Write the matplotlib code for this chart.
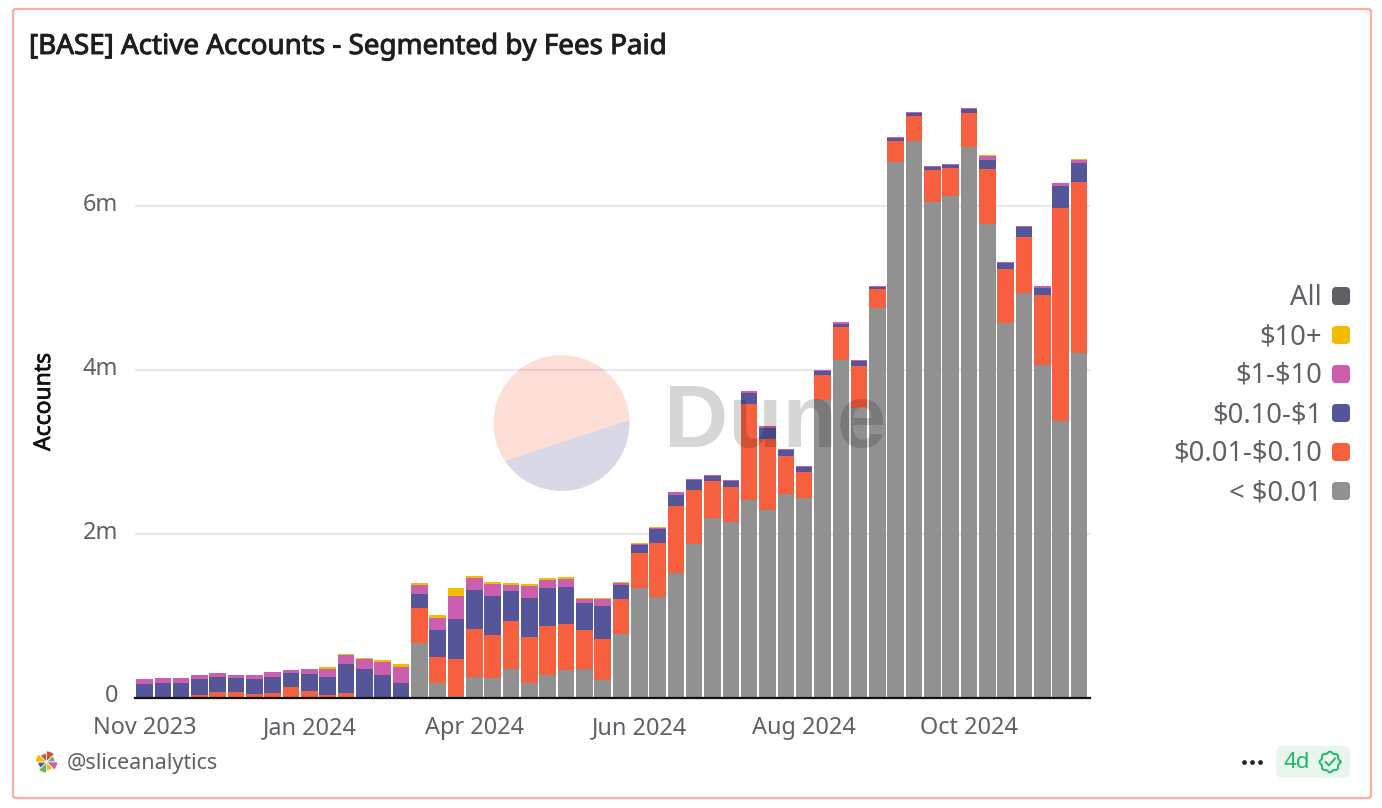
import numpy as np
import matplotlib
matplotlib.use("Agg")
import matplotlib.pyplot as plt
import matplotlib.patheffects as pe
from matplotlib.patches import FancyBboxPatch, Wedge
from matplotlib.transforms import ScaledTranslation

plt.rcParams['font.family'] = ['Noto Sans', 'DejaVu Sans']

# values in millions of accounts, one per week
under_001 = [0, 0, 0, 0, 0, 0, 0, 0, 0, 0, 0, 0, 0, 0, 0,
             .663, .179, .016, .256, .236, .346, .179, .273, .334, .342, .212, .773, 1.335, 1.225, 1.518,
             1.87, 2.187, 2.138, 2.408, 2.285, 2.481, 2.432, 3.632, 4.12, 3.54, 4.752, 6.534, 6.80, 6.046,
             6.12, 6.717, 5.78, 4.569, 4.94, 4.056, 3.372, 4.202]
c001_010 = [.012, .005, .005, .028, .073, .073, .045, .057, .13, .081, .028, .057, .004, .001, .001,
            .424, .321, .452, .578, .533, .594, .558, .606, .561, .48, .504, .432, .427, .665, .816,
            .66, .453, .436, 1.172, .871, .469, .325, .306, .405, .51, .238, .266, .304, .394,
            .34, .416, .673, .661, .68, .854, 2.605, 2.088]
c010_1 = [.158, .178, .178, .192, .183, .159, .175, .199, .175, .2, .22, .358, .35, .272, .182,
          .171, .322, .488, .481, .472, .358, .484, .46, .456, .326, .399, .167, .102, .163, .143,
          .121, .07, .066, .14, .134, .076, .061, .052, .04, .06, .026, .035, .029, .04,
          .045, .057, .107, .08, .125, .09, .266, .24]
d1_10 = [.05, .061, .061, .053, .049, .041, .053, .054, .033, .061, .106, .105, .118, .158, .191,
         .118, .147, .289, .138, .147, .078, .138, .098, .098, .049, .082, .028, .016, .021, .03,
         .02, .008, .01, .025, .02, .01, .012, .007, .015, .012, .01, .01, .012, .012,
         .01, .007, .055, .007, .015, .02, .037, .037]
d10_plus = [0, 0, 0, .002, 0, 0, 0, 0, 0, .002, .016, .013, .012, .021, .037,
            .024, .036, .086, .033, .02, .016, .021, .02, .02, .012, .016, .008, .008, .002, .002,
            .002, .001, .001, .002, .001, .001, .001, .001, .001, .001, .001, .001, .001, .001,
            .001, .001, .004, .001, .001, .001, .007, .011]

series = [under_001, c001_010, c010_1, d1_10, d10_plus]
colors = ['#919191', '#F7603E', '#55559A', '#CB5FAE', '#F4BC00']

x_labels = ['Nov 2023', 'Jan 2024', 'Apr 2024', 'Jun 2024', 'Aug 2024', 'Oct 2024']
y_ticks = [0, 2, 4, 6]
y_labels = ['0', '2m', '4m', '6m']
legend_names = ['All', '$10+', '$1-$10', '$0.10-$1', '$0.01-$0.10', '< $0.01']
legend_colors = ['#5F6066', '#F4BC00', '#CB5FAE', '#55559A', '#F7603E', '#919191']

W, H = 1382, 808
TXT = '#5F6066'
fig = plt.figure(figsize=(W / 100, H / 100), dpi=100)

# chart axes, placed by pixel
ax = fig.add_axes([135 / W, 1 - 697.5 / H, 955 / W, 614.25 / H])
pos = np.arange(len(under_001))
bottom = np.zeros(len(pos))
for vals, col in zip(series, colors):
    ax.bar(pos, vals, width=0.905, bottom=bottom, color=col, zorder=3)
    bottom += np.array(vals)
ax.set_xlim(-0.518, 51.6)
ax.set_ylim(0, 7.5)
ax.set_yticks(y_ticks)
ax.set_yticklabels(y_labels)
ax.set_xticks(pos[::9])
ax.set_xticklabels(x_labels)
ax.tick_params(axis='both', length=0, labelsize=16.9, labelcolor=TXT)
ax.tick_params(axis='x', pad=13.4)
ax.tick_params(axis='y', pad=12)
# y labels sit a little above their gridlines
lift = ScaledTranslation(0, 4 / 100, fig.dpi_scale_trans)
for lab in ax.get_yticklabels():
    lab.set_transform(lab.get_transform() + lift)
ax.grid(axis='y', color='#E8E8EE', lw=1.6, zorder=0)
for s in ['top', 'right', 'left']:
    ax.spines[s].set_visible(False)
ax.spines['bottom'].set_color('#111111')
ax.spines['bottom'].set_linewidth(1.6)
ax.spines['bottom'].set_zorder(5)

# overlay in pixel coordinates for the card, watermark, legend and footer
ov = fig.add_axes([0, 0, 1, 1], facecolor='none')
ov.set_xlim(0, W)
ov.set_ylim(H, 0)
ov.axis('off')

ov.add_patch(FancyBboxPatch((13, 9), 1358, 789, boxstyle='round,pad=0,rounding_size=3',
                            fc='none', ec='#F9AFA0', lw=1.6))
ov.text(29, 47, '[BASE] Active Accounts - Segmented by Fees Paid', fontsize=20, color='#1E1E22',
        va='center', ha='left', path_effects=[pe.withStroke(linewidth=0.7, foreground='#1E1E22')])
ov.text(44, 402, 'Accounts', fontsize=16.5, color='#111111', rotation=90, va='center', ha='center',
        path_effects=[pe.withStroke(linewidth=0.5, foreground='#111111')])

# Dune watermark
cx, cy, r = 561.5, 423, 68
th = np.radians(np.linspace(-2.5, 146, 120))
ov.fill(cx + r * np.cos(th), cy + r * np.sin(th), color='#8080B0', alpha=0.3, lw=0)
th = np.radians(np.linspace(146, 357.5, 160))
ov.fill(cx + r * np.cos(th), cy + r * np.sin(th), color='#F7603E', alpha=0.2, lw=0)
ov.text(664, 424, 'Dune', fontsize=64, fontweight='bold', color='black', alpha=0.16,
        family='Liberation Sans', va='center', ha='left')

# legend
for i, (name, col) in enumerate(zip(legend_names, legend_colors)):
    yc = 296 + 39 * i
    ov.text(1322, yc + 2, name, fontsize=19.7, color=TXT, ha='right', va='center', parse_math=False)
    ov.add_patch(FancyBboxPatch((1332, yc - 9), 18, 18, boxstyle='round,pad=0,rounding_size=4',
                                fc=col, ec='none'))

# footer
logo = ['#C9573F', '#66B56A', '#CB5FAE', '#F4BC00', '#66B56A', '#55559A', '#F4BC00', '#C9573F']
for i, col in enumerate(logo):
    rad = 11 if i % 2 == 0 else 8.5
    ov.add_patch(Wedge((46.5, 762), rad, i * 45 - 90, i * 45 - 45, fc=col, ec='white', lw=0.5))
ov.text(67, 764, '@sliceanalytics', fontsize=15.5, color=TXT, ha='left', va='center')
ov.plot([1244, 1252, 1260], [762, 762, 762], 'o', ms=3.4, color='#222222', mew=0)
ov.add_patch(FancyBboxPatch((1276, 746), 74, 32, boxstyle='round,pad=0,rounding_size=7',
                            fc='#E8F6EE', ec='none'))
ov.text(1297, 762, '4d', fontsize=16, color='#1FB868', ha='center', va='center')
th = np.linspace(0, 2 * np.pi, 120)
rr = 9.6 + 0.8 * np.cos(8 * th)
ov.plot(1330 + rr * np.cos(th), 762 + rr * np.sin(th), color='#1FB868', lw=1.4)
ov.plot([1325.5, 1329, 1335], [762, 765.5, 758.5], color='#1FB868', lw=1.4)

fig.savefig('out.png', dpi=100)
